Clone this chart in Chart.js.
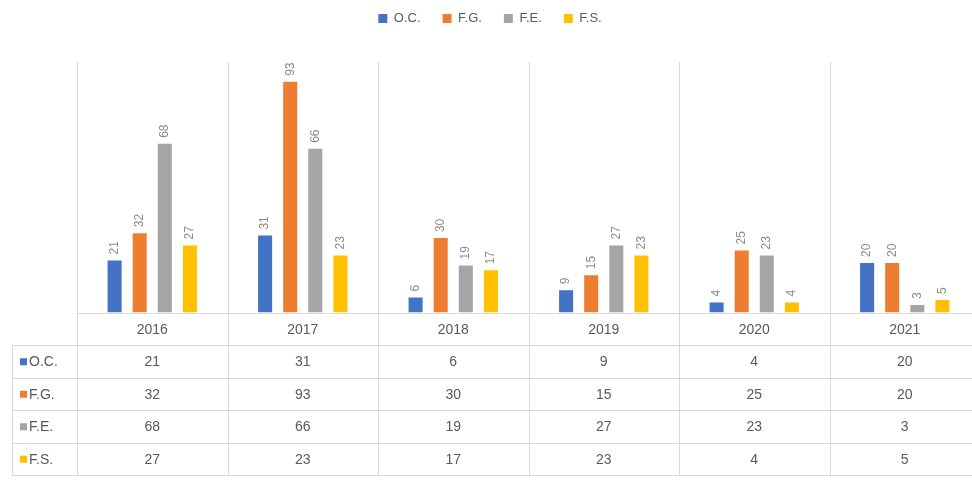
<!DOCTYPE html>
<html>
<head>
<meta charset="utf-8">
<script src="https://cdn.jsdelivr.net/npm/chart.js@4/dist/chart.umd.min.js"></script>
<style>
  html, body { margin: 0; padding: 0; background: #fff; overflow: hidden; }
  #wrap { width: 980px; height: 480px; position: relative; }
</style>
</head>
<body>
<div id="wrap"><canvas id="c"></canvas></div>
<script>
// Yearly counts per category
const categories = ['2016', '2017', '2018', '2019', '2020', '2021'];
const seriesNames = ['O.C.', 'F.G.', 'F.E.', 'F.S.'];
const ocValues = [21, 31, 6, 9, 4, 20];
const fgValues = [32, 93, 30, 15, 25, 20];
const feValues = [68, 66, 19, 27, 23, 3];
const fsValues = [27, 23, 17, 23, 4, 5];
const seriesColors = ['#4472C4', '#ED7D31', '#A5A5A5', '#FFC000'];

const seriesValues = [ocValues, fgValues, feValues, fsValues];
const FONT = "'Liberation Sans', 'DejaVu Sans', sans-serif";
const GRID = '#D9D9D9';
const TEXT = '#595959';
const ROW_H = 32.5;
const TABLE_LEFT = 12;

// Extra room between the legend and the plot
const legendGap = {
  id: 'legendGap',
  beforeInit(chart) {
    const fit = chart.legend.fit;
    chart.legend.fit = function () {
      fit.call(this);
      this.height += 27;
    };
  }
};

// Rotated value labels above each column
const valueLabels = {
  id: 'valueLabels',
  afterDatasetsDraw(chart) {
    const ctx = chart.ctx;
    ctx.save();
    ctx.font = '12px ' + FONT;
    ctx.fillStyle = '#8C8C8C';
    ctx.textAlign = 'left';
    ctx.textBaseline = 'middle';
    chart.data.datasets.forEach((ds, di) => {
      chart.getDatasetMeta(di).data.forEach((bar, i) => {
        ctx.save();
        ctx.translate(bar.x, bar.y - 6);
        ctx.rotate(-Math.PI / 2);
        ctx.fillText(String(ds.data[i]), 0, 0);
        ctx.restore();
      });
    });
    ctx.restore();
  }
};

// Data table underneath the plot, plus the category separators
const dataTable = {
  id: 'dataTable',
  afterDraw(chart) {
    const { ctx, chartArea } = chart;
    const x = chart.scales.x;
    const n = categories.length;
    const colW = (chartArea.right - chartArea.left) / n;
    const top = chartArea.bottom;
    const bottom = top + ROW_H * (seriesNames.length + 1);
    const right = chart.width;

    ctx.save();
    ctx.strokeStyle = GRID;
    ctx.lineWidth = 1;

    // vertical separators between categories
    for (let i = 0; i <= n; i++) {
      const px = Math.round(chartArea.left + colW * i) + 0.5;
      ctx.beginPath();
      ctx.moveTo(px, chartArea.top);
      ctx.lineTo(px, bottom);
      ctx.stroke();
    }
    // left border of the legend-key column
    ctx.beginPath();
    ctx.moveTo(TABLE_LEFT + 0.5, top + ROW_H);
    ctx.lineTo(TABLE_LEFT + 0.5, bottom);
    ctx.stroke();

    // horizontal rules
    ctx.beginPath();
    ctx.moveTo(chartArea.left, Math.round(top) + 0.5);
    ctx.lineTo(right, Math.round(top) + 0.5);
    ctx.stroke();
    for (let r = 1; r <= seriesNames.length + 1; r++) {
      const py = Math.round(top + ROW_H * r) + 0.5;
      ctx.beginPath();
      ctx.moveTo(TABLE_LEFT, py);
      ctx.lineTo(right, py);
      ctx.stroke();
    }

    // text
    ctx.font = '14px ' + FONT;
    ctx.fillStyle = TEXT;
    ctx.textAlign = 'center';
    ctx.textBaseline = 'middle';
    categories.forEach((c, i) => {
      ctx.fillText(c, x.getPixelForValue(i), top + ROW_H / 2 + 1);
    });
    seriesNames.forEach((name, s) => {
      const cy = top + ROW_H * (s + 1) + ROW_H / 2 + 1;
      ctx.fillStyle = seriesColors[s];
      ctx.fillRect(TABLE_LEFT + 8, cy - 4, 7, 7);
      ctx.fillStyle = TEXT;
      ctx.textAlign = 'left';
      ctx.fillText(name, TABLE_LEFT + 17, cy);
      ctx.textAlign = 'center';
      seriesValues[s].forEach((v, i) => {
        ctx.fillText(String(v), x.getPixelForValue(i), cy);
      });
    });
    ctx.restore();
  }
};

new Chart(document.getElementById('c'), {
  type: 'bar',
  data: {
    labels: categories,
    datasets: seriesNames.map((name, s) => ({
      label: name,
      data: seriesValues[s],
      backgroundColor: seriesColors[s],
      borderWidth: 0,
      categoryPercentage: 0.667,
      barPercentage: 0.56
    }))
  },
  options: {
    responsive: true,
    maintainAspectRatio: false,
    animation: false,
    layout: { padding: { left: 0, right: 0, top: -10, bottom: 5 * ROW_H + 5 } },
    plugins: {
      legend: {
        position: 'top',
        labels: {
          boxWidth: 9,
          boxHeight: 9,
          padding: 22,
          color: TEXT,
          font: { family: FONT, size: 13 }
        }
      },
      tooltip: { enabled: false }
    },
    scales: {
      x: { display: false, offset: true, grid: { display: false } },
      y: {
        display: true,
        min: 0,
        max: 101,
        ticks: { display: false },
        grid: { display: false },
        border: { display: false },
        afterFit(scale) { scale.width = 77; }
      }
    }
  },
  plugins: [legendGap, valueLabels, dataTable]
});
</script>
</body>
</html>
